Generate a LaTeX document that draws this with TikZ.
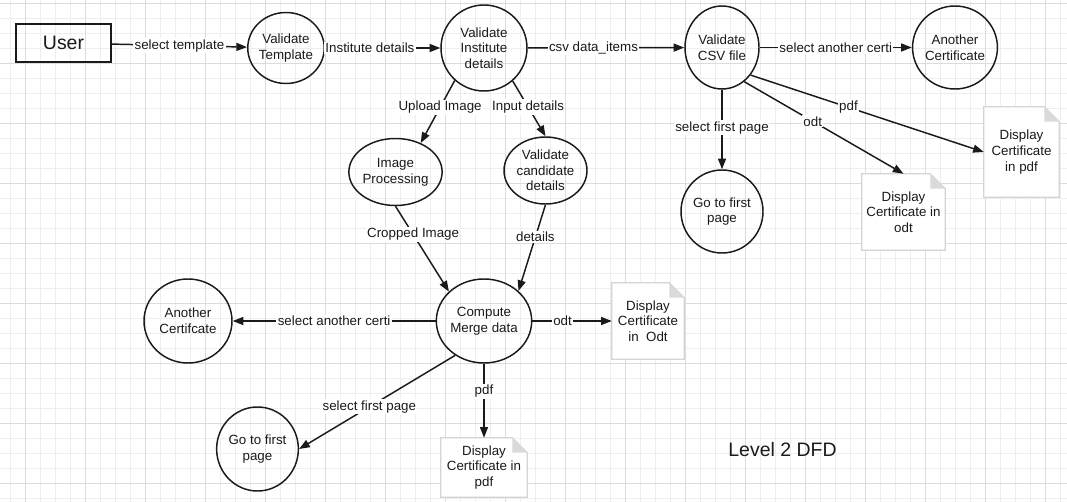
\documentclass[tikz,border=0pt]{standalone}
\usepackage{fontspec}
\setmainfont{Liberation Sans}
\usetikzlibrary{shapes.geometric,arrows.meta}
\pgfdeclarelayer{gridlayer}
\pgfdeclarelayer{doclayer}
\pgfsetlayers{gridlayer,doclayer,main}
\definecolor{gridminor}{HTML}{EEEEEE}
\definecolor{gridmajor}{HTML}{DCDCDC}
\definecolor{ink}{HTML}{1A1A1A}
\definecolor{docline}{HTML}{D4D4D4}
\definecolor{docfold}{HTML}{DADADA}
\newcommand{\dfdfont}{\fontsize{10}{11.8}\selectfont}
\newcommand{\dfdbig}{\fontsize{14.6}{17}\selectfont}
\begin{document}
\begin{tikzpicture}[x=0.75pt,y=-0.75pt,
  proc/.style={ellipse,draw=ink,line width=1.1pt,inner sep=0pt,align=center,font=\dfdfont,text=ink},
  docnode/.style={rectangle,inner sep=0pt,align=center,font=\dfdfont,text=ink},
  flow/.style={draw=ink,line width=1.1pt,-{Triangle[length=8pt,width=6pt]}},
  lbl/.style={fill=white,inner sep=1pt,font=\dfdfont,text=ink},
  gridmin/.style={draw=gridminor,line width=0.75pt},
  gridmaj/.style={draw=gridmajor,line width=0.75pt}]
\useasboundingbox (0,0) rectangle (1067,502);
\begin{pgfonlayer}{gridlayer}
  \fill[white] (0,0) rectangle (1067,502);
  \foreach \x in {10.5,25.5,...,1061} \draw[gridmin] (\x,0) -- (\x,502);
  \foreach \y in {3.5,18.5,...,499} \draw[gridmin] (0,\y) -- (1067,\y);
  \foreach \x in {25.5,85.5,...,1046} \draw[gridmaj] (\x,0) -- (\x,502);
  \foreach \y in {3.5,63.5,...,484} \draw[gridmaj] (0,\y) -- (1067,\y);
\end{pgfonlayer}

% external entity
\node[draw=ink,line width=1.3pt,minimum width=71.25pt,minimum height=28.5pt,inner sep=0pt,font=\dfdbig,text=ink] (user) at (63.5,43) {User};

% processes
\node[proc,minimum width=54pt,minimum height=53.25pt] (vt) at (286,48) {Validate\\Template};
\node[proc,minimum width=64.5pt,minimum height=64.5pt] (vi) at (484,48) {Validate\\Institute\\details};
\node[proc,minimum width=55.5pt,minimum height=62.25pt] (csv) at (722,47.5) {Validate\\CSV file};
\node[proc,minimum width=57pt,minimum height=62.25pt] (aca) at (955,47.5) {Another\\Certificate};
\node[proc,minimum width=62.25pt,minimum height=50.25pt] (ip) at (395.5,172) {Image\\Processing};
\node[proc,minimum width=62.25pt,minimum height=50.25pt] (vc) at (545.5,170.5) {Validate\\candidate\\details};
\node[proc,minimum width=61.5pt,minimum height=62.25pt] (gfa) at (722,211.5) {Go to first\\page};
\node[proc,minimum width=64.5pt,minimum height=63pt] (cm) at (484,321) {Compute\\Merge data};
\node[proc,minimum width=66pt,minimum height=63pt] (acb) at (188,321) {Another\\Certifcate};
\node[proc,minimum width=57.75pt,minimum height=63pt] (gfb) at (257.5,449) {Go to first\\page};

% documents
\node[docnode,minimum width=56.25pt,minimum height=67.5pt] (pdfa) at (1021.5,152) {Display\\Certificate\\in pdf};
\node[docnode,minimum width=62.25pt,minimum height=57pt] (odta) at (903.5,212) {Display\\Certificate in\\odt};
\node[docnode,minimum width=54pt,minimum height=57pt] (odtb) at (648,321) {Display\\Certificate\\in\ \ Odt};
\node[docnode,minimum width=64.5pt,minimum height=44.25pt] (pdfb) at (484,467.5) {Display\\Certificate in\\pdf};

\begin{pgfonlayer}{doclayer}
  \foreach \d in {pdfa,odta,odtb,pdfb}{
    \filldraw[fill=white,draw=docline,line width=1pt]
      (\d.south west) -- (\d.north west) -- ([xshift=-11.25pt]\d.north east)
      -- ([yshift=-11.25pt]\d.north east) -- (\d.south east) -- cycle;
    \fill[docfold] ([xshift=-11.25pt]\d.north east)
      -- ([xshift=-11.25pt,yshift=-11.25pt]\d.north east)
      -- ([yshift=-11.25pt]\d.north east) -- cycle;
  }
\end{pgfonlayer}

% title
\node[font=\dfdbig,text=ink] (title) at (782.5,450) {Level 2 DFD};

% flows
\draw[flow] (user) -- node[lbl,pos=0.5]{select template} (vt);
\draw[flow] (vt) -- node[lbl,pos=0.39]{Institute details} (vi);
\draw[flow] (vi) -- node[lbl,pos=0.42]{csv data\_items} (csv);
\draw[flow] (csv) -- node[lbl,pos=0.5]{select another certi} (aca);
\draw[flow] (vi.-132) -- node[lbl,pos=0.43]{Upload Image} (ip.49);
\draw[flow] (vi.-49) -- node[lbl,pos=0.47]{Input details} (vc.north);
\draw[flow] (csv.south) -- node[lbl,pos=0.48]{select first page} (gfa.north);
\draw[flow] (csv.-44) -- node[lbl,pos=0.42]{pdf} (pdfa.west);
\draw[flow] (csv.-57) -- node[lbl,pos=0.43]{odt} (odta.north);
\draw[flow] (ip.south) -- node[lbl,pos=0.33]{Cropped Image} (cm.140);
\draw[flow] (vc.south) -- node[lbl,pos=0.375]{details} (cm.41);
\draw[flow] (cm) -- node[lbl,pos=0.5]{select another certi} (acb);
\draw[flow] (cm) -- node[lbl,pos=0.38]{odt} (odtb);
\draw[flow] (cm) -- node[lbl,pos=0.37]{pdf} (pdfb);
\draw[flow] (cm.-130) -- node[lbl,pos=0.55]{select first page} (gfb.east);
\end{tikzpicture}
\end{document}
